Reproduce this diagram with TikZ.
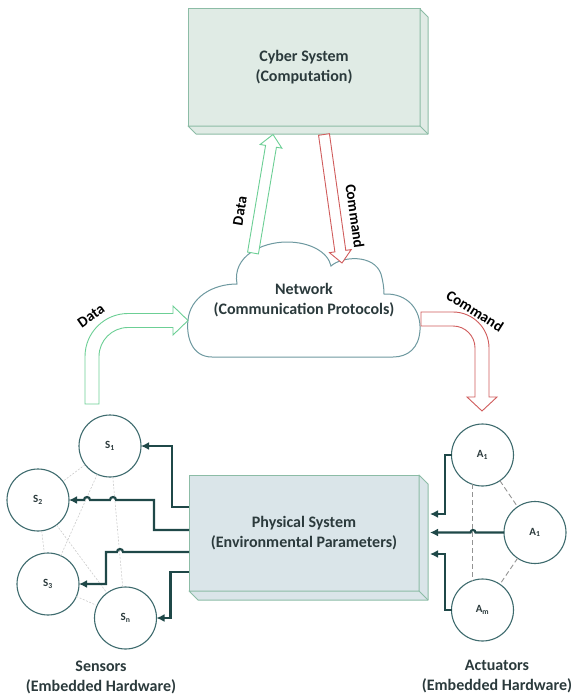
\documentclass[tikz,border=0pt]{standalone}
\usepackage{fontspec}
\setmainfont{Carlito}
\usetikzlibrary{arrows.meta,calc}
\definecolor{txt}{HTML}{2B3A3C}
\definecolor{boxedge}{HTML}{8CBCA6}
\definecolor{cyberfill}{HTML}{E0EBE5}
\definecolor{physfill}{HTML}{DAE5E9}
\definecolor{cloudline}{HTML}{6E99A0}
\definecolor{darkl}{HTML}{1F4848}
\definecolor{circl}{HTML}{3E6B6E}
\definecolor{grn}{HTML}{6CCF95}
\definecolor{rd}{HTML}{D05C5C}
\newcommand\fatarrow[3]{%
  \coordinate (fa-h) at ($(#2)!12pt!(#1)$);
  \draw[#3, line width=0.9pt, fill=white, line join=miter]
    ($(#1)!5.5pt!90:(#2)$) -- ($(fa-h)!5.5pt!90:(#2)$) -- ($(fa-h)!11pt!90:(#2)$)
    -- (#2) -- ($(fa-h)!11pt!-90:(#2)$) -- ($(fa-h)!5.5pt!-90:(#2)$)
    -- ($(#1)!5.5pt!-90:(#2)$) -- cycle;}
\begin{document}
\begin{tikzpicture}[x=1pt,y=-1pt,
  sysbox/.style={draw=boxedge, line width=1pt, inner sep=0pt, outer sep=0pt,
    font=\bfseries\fontsize{16}{20}\selectfont, text=txt, align=center},
  sysface/.style={draw=boxedge, line width=1pt, line join=round},
  sensor/.style={circle, draw=circl, line width=1.1pt, minimum size=62pt, inner sep=0pt,
    outer sep=0pt, fill=white, font=\bfseries\fontsize{11}{12}\selectfont, text=txt},
  link/.style={draw=darkl, line width=2.2pt, -{Latex[length=8pt,width=8pt]}},
  meshl/.style={draw=gray!40, line width=0.6pt, dash pattern=on 2pt off 1.5pt},
  ameshl/.style={draw=gray!85, line width=0.9pt, dash pattern=on 5pt off 3pt},
  lbl/.style={font=\bfseries\fontsize{16}{20}\selectfont, text=txt, align=center},
  arrlbl/.style={font=\bfseries\fontsize{15}{18}\selectfont, text=black}]
\useasboundingbox (0,0) rectangle (574,698);

% Cyber system box
\node[sysbox, fill=cyberfill, minimum width=232pt, minimum height=117pt] (cyber) at (304,67.5) {Cyber System\\(Computation)};
\draw[sysface, fill=cyberfill] (cyber.north east) -- ++(8,8) -- ($(cyber.south east)+(8,8)$) -- ($(cyber.south west)+(8,8)$) -- (cyber.south west) -- (cyber.south east) -- cycle;
\draw[sysface] (cyber.south east) -- ++(8,8);

% Physical system box
\node[sysbox, fill=physfill, minimum width=230pt, minimum height=116pt] (phys) at (304,533) {Physical System\\(Environmental Parameters)};
\draw[sysface, fill=physfill] (phys.north east) -- ++(9,9) -- ($(phys.south east)+(9,9)$) -- ($(phys.south west)+(9,9)$) -- (phys.south west) -- (phys.south east) -- cycle;
\draw[sysface] (phys.south east) -- ++(9,9);

% Cloud
\draw[cloudline, line width=1pt, fill=white]
  (212,357) .. controls (192,357) and (186,337) .. (188,320)
  .. controls (190,298) and (212,284) .. (237,284)
  .. controls (232,256) and (262,242) .. (287,242)
  .. controls (310,242) and (328,252) .. (331,266)
  .. controls (342,256) and (374,254) .. (381,274)
  .. controls (383,281) and (384,288) .. (384,294)
  .. controls (408,293) and (421,310) .. (420,330)
  .. controls (419,348) and (408,357) .. (393,357) -- cycle;
\node[lbl] (net) at (304,300) {Network\\(Communication Protocols)};

% straight arrows between cloud and cyber
\coordinate (dbase) at (253,253);
\coordinate (dtip) at (273,134.5);
\coordinate (cbase) at (324,134.5);
\coordinate (ctip) at (342,263);
\fatarrow{dbase}{dtip}{grn}
\fatarrow{cbase}{ctip}{rd}
\node[arrlbl, rotate=80.5] (ldata1) at (240,211) {Data};
\node[arrlbl, rotate=-82] (lcmd1) at (355,216) {Command};

% bent Data arrow (sensors -> network)
\draw[grn, line width=0.9pt, fill=white, line join=miter]
  (85,404) -- (85,356.5) arc[start angle=180, end angle=90, radius=43pt]
  -- (173,313.5) -- (173,306) -- (188,320.5) -- (173,335) -- (173,327.5)
  -- (128,327.5) arc[start angle=90, end angle=180, radius=29pt]
  -- (99,404) -- cycle;
\node[arrlbl, rotate=35] (ldata2) at (91,316) {Data};

% bent Command arrow (network -> actuators)
\draw[rd, line width=0.9pt, fill=white, line join=miter]
  (421,312) -- (453,312) arc[start angle=90, end angle=0, radius=36pt]
  -- (489,397) -- (497,397) -- (482,411) -- (467,397) -- (475,397)
  -- (475,348) arc[start angle=0, end angle=90, radius=22pt]
  -- (421,326) -- cycle;
\node[arrlbl, rotate=-32] (lcmd2) at (475,311) {Command};

% Sensors
\node[sensor] (S1) at (110,446) {S\textsubscript{1}};
\node[sensor] (S2) at (38,500) {S\textsubscript{2}};
\node[sensor] (S3) at (48,584) {S\textsubscript{3}};
\node[sensor] (Sn) at (125.5,618) {S\textsubscript{n}};
\draw[meshl] (S1) -- (S2);
\draw[meshl] (S1) -- (S3);
\draw[meshl] (S1) -- (Sn);
\draw[meshl] (S2) -- (S3);
\draw[meshl] (S2) -- (Sn);
\draw[meshl] (S3) -- (Sn);

\draw[link] ([yshift=-32pt]phys.north west) -| ($(S1.east)+(31,0)$) -- (S1.east);
\draw[link] ([yshift=-55pt]phys.north west) -| ($(S2.east)+(85,0)$)
  -- ++(-38,0) arc[start angle=0, end angle=180, radius=3pt]
  -- ++(-20,0) arc[start angle=0, end angle=180, radius=3pt] -- (S2.east);
\draw[link] ([yshift=-77pt]phys.north west) -- ++(-66,0)
  arc[start angle=0, end angle=180, radius=3pt] -- ++(-11,0) |- (S3.east);
\draw[link] ([yshift=-97pt]phys.north west) -| ($(Sn.east)+(14,0)$) -- (Sn.east);

% Actuators
\node[sensor] (A1) at (482.5,455) {A\textsubscript{1}};
\node[sensor] (A2) at (535,532.5) {A\textsubscript{1}};
\node[sensor] (Am) at (482.5,610) {A\textsubscript{m}};
\draw[ameshl] (A1.252) -- (Am.108);
\draw[ameshl] (A1) -- (A2);
\draw[ameshl] (A2) -- (Am);

\draw[link] (A1.west) -- ++(-6.5,0) |- ([xshift=11pt,yshift=-39pt]phys.north east);
\draw[link] (A2.west) -- ++(-28.5,0) arc[start angle=0, end angle=180, radius=2.5pt]
  -- ([xshift=11pt,yshift=-57.5pt]phys.north east);
\draw[link] (Am.west) -- ++(-6.5,0) |- ([xshift=11pt,yshift=-79pt]phys.north east);

% Group labels
\node[lbl] (slabel) at (101,677) {Sensors\\(Embedded Hardware)};
\node[lbl] (alabel) at (497,677) {Actuators\\(Embedded Hardware)};
\end{tikzpicture}
\end{document}
